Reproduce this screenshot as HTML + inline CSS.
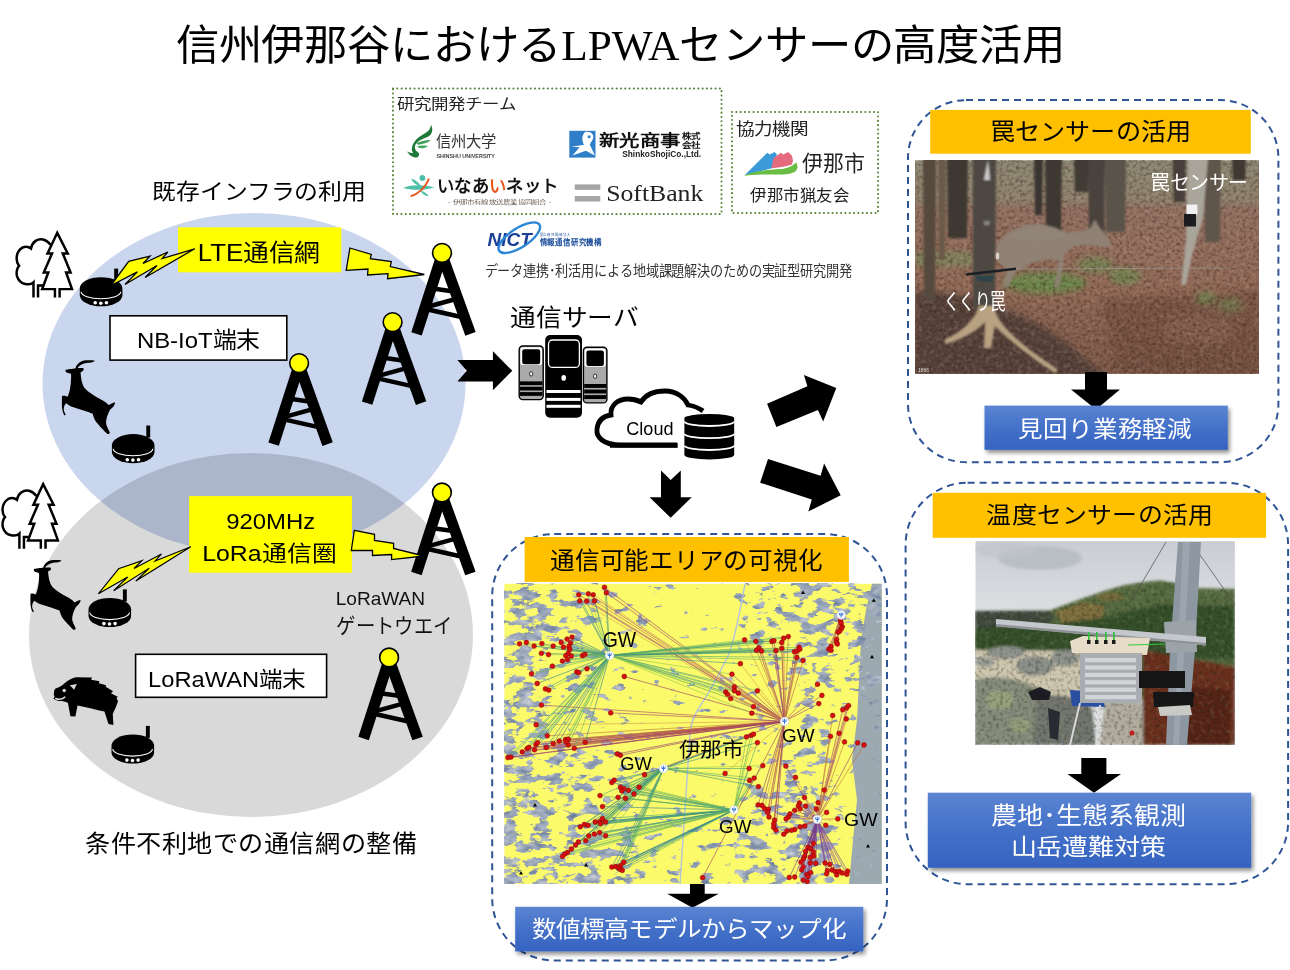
<!DOCTYPE html>
<html lang="zh-CN"><head><meta charset="utf-8"><title>LPWA</title>
<style>html,body{margin:0;padding:0;background:#fff;overflow:hidden}svg{display:block;will-change:transform;font-family:"Liberation Sans",sans-serif}</style>
</head><body>
<svg width="1290" height="970" viewBox="0 0 1290 970">
<defs><g id="tower">
<g stroke="#000" stroke-linecap="butt">
<line x1="0" y1="2" x2="-25.5" y2="81" stroke-width="11"/>
<line x1="0" y1="2" x2="28.5" y2="81" stroke-width="11"/>
<line x1="-10.8" y1="35.4" x2="13.3" y2="38.8" stroke-width="4.5"/>
<line x1="15.7" y1="45.6" x2="-17" y2="54.6" stroke-width="4.5"/>
<line x1="-17.4" y1="55.8" x2="22.7" y2="64.8" stroke-width="4.5"/>
</g>
<circle r="9.4" fill="#ff0" stroke="#000" stroke-width="1.6"/>
</g>
<g id="router">
<rect x="34.4" y="-8.6" width="3.9" height="12" fill="#000"/>
<path d="M0,11.2 A21.3,11.2 0 0 1 42.6,11.2 L42.6,18 A21.3,11.1 0 0 1 0,18 Z" fill="#000"/>
<path d="M1.3,14.6 A19.8,7 0 0 0 40.9,14.6" fill="none" stroke="#fff" stroke-width="1.1"/>
<circle cx="15.4" cy="25.6" r="1.8" fill="#fff"/><circle cx="21" cy="26" r="1.8" fill="#fff"/><circle cx="26.6" cy="25.6" r="1.8" fill="#fff"/>
</g>
<g id="trees" fill="none" stroke="#000" stroke-width="30" stroke-linejoin="miter">
<path d="M285,880 L285,695 C250,730 120,740 85,620 C70,560 95,510 110,495 C70,450 60,330 150,275 C190,255 230,265 255,285 C270,200 340,160 400,175 C440,185 470,210 492,240" fill="#fff"/>
<path d="M340,880 L340,735 L400,735"/>
<path d="M602,880 L602,778 L752,778 L680,575 L735,575 L640,345 L700,345 L573,95 L455,345 L510,345 L410,575 L465,575 L390,778 L545,778 L545,880" fill="#fff"/>
</g>
<path id="deer" d="M120,170 C140,160 200,158 235,150 C240,115 280,72 330,62 C370,60 420,58 455,66 C450,80 420,86 395,88 C350,86 300,100 268,135 L258,152 C280,150 310,145 325,152 C335,170 318,190 292,196 C296,260 305,330 340,380 C380,425 450,470 530,510 C565,528 595,550 612,572 C640,558 665,545 685,540 C688,570 660,600 628,625 C605,670 578,730 585,790 C595,830 620,860 625,885 C622,905 605,905 595,898 C560,865 500,800 462,752 C445,720 435,690 430,670 C380,650 300,625 220,600 C180,588 150,570 130,550 C112,560 98,590 100,625 C103,650 118,668 122,682 L108,690 C90,665 78,620 78,560 L80,468 C100,458 125,468 142,476 C168,430 180,350 183,270 C185,240 185,225 180,215 C160,208 135,205 122,192 Z" fill="#000"/>
<g id="boar"><path d="M70,290 L90,265 C150,255 200,215 250,170 C300,130 360,100 420,85 L680,90 L665,125 L800,150 L790,180 L910,215 L900,240 L1020,310 L985,345 L1095,400 L1075,430 L1100,470 C1080,550 1040,620 1015,680 L1025,855 L945,840 L880,640 C750,610 600,570 445,540 L410,720 L330,715 L290,500 C250,480 200,470 160,470 C110,465 70,450 55,425 L75,400 L60,365 Z" fill="#000"/>
<path d="M320,215 L435,195 L390,285 Z" fill="#d9d9d9"/><circle cx="230" cy="298" r="28" fill="#d9d9d9"/>
<path d="M92,428 C140,448 200,440 240,406" stroke="#d9d9d9" stroke-width="24" fill="none" stroke-linecap="round"/></g>
<linearGradient id="bluegrad" x1="0" y1="0" x2="0" y2="1"><stop offset="0" stop-color="#5b84d2"/><stop offset="0.5" stop-color="#4471c9"/><stop offset="1" stop-color="#3563c0"/></linearGradient>
<filter id="shadow" x="-10%" y="-10%" width="130%" height="140%"><feGaussianBlur in="SourceAlpha" stdDeviation="2"/><feOffset dx="2" dy="3" result="b"/><feComponentTransfer><feFuncA type="linear" slope="0.45"/></feComponentTransfer><feMerge><feMergeNode/><feMergeNode in="SourceGraphic"/></feMerge></filter>
</defs>
<text x="175.71" y="60.27" font-size="41.49" textLength="889.10" lengthAdjust="spacingAndGlyphs" font-family='"Liberation Sans",sans-serif' fill="#000">信州伊那谷における<tspan font-family='"Liberation Serif",serif'>LPWA</tspan>センサーの高度活用</text>
<ellipse cx="254" cy="383.6" rx="211.5" ry="170.6" fill="#cad6ee"/>
<ellipse cx="251" cy="635" rx="222" ry="182" fill="#000" fill-opacity="0.15"/>
<use href="#trees" transform="translate(10,225) scale(0.08244)"/>
<use href="#trees" transform="translate(-4.1,476.3) scale(0.08244)"/>
<use href="#deer" transform="translate(55,355) scale(0.08761)"/>
<use href="#deer" transform="translate(23.89,555.14) scale(0.08279)"/>
<use href="#boar" transform="translate(50,672) scale(0.061855)"/>
<use href="#router" transform="translate(79.8,277.2)"/>
<use href="#router" transform="translate(111.9,434.1)"/>
<use href="#router" transform="translate(88.5,598)"/>
<use href="#router" transform="translate(111.5,734.5)"/>
<use href="#tower" transform="translate(442,252.9)"/>
<use href="#tower" transform="translate(392.6,322.1)"/>
<use href="#tower" transform="translate(299.1,363.1)"/>
<use href="#tower" transform="translate(441.9,492.5)"/>
<use href="#tower" transform="translate(389.1,657.5)"/>
<rect x="178.1" y="227.4" width="163.2" height="44.9" fill="#ff0"/>
<text x="197.75" y="260.80" font-size="24.41" textLength="121.78" lengthAdjust="spacingAndGlyphs" font-family='"Liberation Sans",sans-serif' fill="#000">LTE通信網</text>
<rect x="189.1" y="496.1" width="162.8" height="76.6" fill="#ff0"/>
<text x="226.20" y="528.78" font-size="22.25" textLength="89.08" lengthAdjust="spacingAndGlyphs" font-family='"Liberation Sans",sans-serif' fill="#000">920MHz</text>
<text x="202.20" y="560.65" font-size="21.72" textLength="135.02" lengthAdjust="spacingAndGlyphs" font-family='"Liberation Sans",sans-serif' fill="#000">LoRa通信圏</text>
<rect x="110" y="315.8" width="176.8" height="44.3" fill="#fff" stroke="#000" stroke-width="1.6"/>
<text x="136.90" y="348.49" font-size="22.34" textLength="122.88" lengthAdjust="spacingAndGlyphs" font-family='"Liberation Sans",sans-serif' fill="#000">NB-IoT端末</text>
<rect x="135.6" y="654.3" width="191" height="43" fill="#fff" stroke="#000" stroke-width="1.6"/>
<text x="148.11" y="686.59" font-size="21.28" textLength="157.75" lengthAdjust="spacingAndGlyphs" font-family='"Liberation Sans",sans-serif' fill="#000">LoRaWAN端末</text>
<g fill="#ff0" stroke="#000" stroke-width="1.3" stroke-linejoin="miter"><polygon points="110.9,285.5 128.7,261.4 150.0,256.2 143.0,263.5 167.8,252.0 162.2,258.6 194.7,248.8 145.1,277.5 157.0,265.5 125.0,284.5 137.4,271.9" /><polygon points="349.9,248.0 371.3,254.5 370.3,258.7 391.3,261.5 390.3,266.6 424.3,274.5 387.6,278.7 388.0,273.6 367.6,275.0 368.0,269.0 346.2,270.3" /><polygon points="354.3,530.4 374.5,534.4 374.5,540.4 393.6,543.4 393.6,548.5 424.0,556.0 391.6,559.6 391.6,554.5 372.5,555.5 372.5,550.5 351.3,550.5" /><g transform="translate(98.4,593.8) rotate(-26.96) scale(1.133,0.88) rotate(23.65) translate(-110.9,-285.5)"><polygon points="110.9,285.5 128.7,261.4 150.0,256.2 143.0,263.5 167.8,252.0 162.2,258.6 194.7,248.8 145.1,277.5 157.0,265.5 125.0,284.5 137.4,271.9" /></g></g>
<text x="152.33" y="199.32" font-size="22.04" textLength="213.59" lengthAdjust="spacingAndGlyphs" font-family='"Liberation Sans",sans-serif' fill="#000">既存インフラの利用</text>
<text x="84.98" y="851.87" font-size="23.62" textLength="332.30" lengthAdjust="spacingAndGlyphs" font-family='"Liberation Sans",sans-serif' fill="#000">条件不利地での通信網の整備</text>
<text x="335.67" y="605.42" font-size="18.31" textLength="89.49" lengthAdjust="spacingAndGlyphs" font-family='"Liberation Sans",sans-serif' fill="#111">LoRaWAN</text>
<text x="336.23" y="633.14" font-size="21.01" textLength="116.18" lengthAdjust="spacingAndGlyphs" font-family='"Liberation Sans",sans-serif' fill="#111">ゲートウエイ</text>
<rect x="393" y="88.5" width="328.5" height="125.5" fill="none" stroke="#548235" stroke-width="2" stroke-dasharray="0.1 4.2" stroke-linecap="round"/>
<rect x="732" y="112" width="146" height="101" fill="none" stroke="#548235" stroke-width="2" stroke-dasharray="0.1 4.2" stroke-linecap="round"/>
<text x="397.09" y="109.10" font-size="14.47" textLength="118.40" lengthAdjust="spacingAndGlyphs" font-family='"Liberation Sans",sans-serif' fill="#222">研究開発チーム</text>
<text x="736.08" y="134.52" font-size="16.49" textLength="72.27" lengthAdjust="spacingAndGlyphs" font-family='"Liberation Sans",sans-serif' fill="#222">協力機関</text>
<text x="750.07" y="200.87" font-size="15.85" textLength="99.60" lengthAdjust="spacingAndGlyphs" font-family='"Liberation Sans",sans-serif' fill="#222">伊那市猟友会</text>
<text x="606.20" y="200.84" font-size="23.15" textLength="97.15" lengthAdjust="spacingAndGlyphs" font-family='"Liberation Serif",serif' fill="#222">SoftBank</text>
<text x="435.54" y="147.25" font-size="16.06" textLength="61.22" lengthAdjust="spacingAndGlyphs" font-family='"Liberation Sans",sans-serif' fill="#333">信州大学</text>
<text x="599.09" y="145.94" font-size="16.02" textLength="81.32" lengthAdjust="spacingAndGlyphs" font-family='"Liberation Sans",sans-serif' fill="#111" font-weight="bold">新光商事</text>
<text x="436.99" y="192.00" font-size="16.99" textLength="121.36" lengthAdjust="spacingAndGlyphs" font-family='"Liberation Sans",sans-serif' fill="#111" font-weight="bold">いなあ<tspan fill="#e8541c">い</tspan>ネット</text>
<text x="802.08" y="170.63" font-size="21.91" textLength="62.97" lengthAdjust="spacingAndGlyphs" font-family='"Liberation Sans",sans-serif' fill="#222">伊那市</text>
<text x="487.62" y="245.52" font-size="17.89" textLength="44.11" lengthAdjust="spacingAndGlyphs" font-family='"Liberation Sans",sans-serif' fill="#1a3f94" font-weight="bold" font-style="italic">NICT</text>
<text x="484.57" y="275.71" font-size="14.32" textLength="367.22" lengthAdjust="spacingAndGlyphs" font-family='"Liberation Sans",sans-serif' fill="#333">データ連携･利活用による地域課題解決のための実証型研究開発</text>
<g transform="translate(400,122) scale(0.07752)"><path d="M400,35 C430,90 420,160 360,190 C300,215 230,240 200,290 C180,330 200,370 230,390 C250,400 255,430 230,450 C200,470 150,450 120,420 L90,380 C120,395 150,400 170,400 C140,370 150,300 190,250 C240,180 320,160 360,120 C385,95 395,65 400,35 Z" fill="#1f7a3a"/>
<path d="M210,272 C260,250 330,235 395,232 C370,265 300,285 230,292 Z" fill="#3a9d55"/><path d="M222,312 C260,300 320,298 362,308 C330,335 280,345 240,332 Z" fill="#44a860"/></g>
<text x="436.4" y="157.6" font-size="5.4" fill="#444" textLength="58.6" lengthAdjust="spacingAndGlyphs" font-weight="bold">SHINSHU UNIVERSITY</text>
<rect x="569.3" y="130.8" width="26.2" height="26.8" fill="#2f7fc8"/>
<g transform="translate(560,125) scale(0.11628)"><path d="M215,60 C260,48 292,78 286,110 C281,135 262,150 257,170 L300,262 L222,222 L108,262 L168,192 L98,186 L208,170 C188,140 184,90 215,60 Z" fill="#fff"/><circle cx="250" cy="102" r="13" fill="#2f7fc8"/></g>
<text x="682" y="139.2" font-size="8.2" font-weight="bold" fill="#111" textLength="18.5" lengthAdjust="spacingAndGlyphs">株式</text><text x="682" y="147.6" font-size="8.2" font-weight="bold" fill="#111" textLength="18.5" lengthAdjust="spacingAndGlyphs">会社</text>
<text x="622.2" y="157" font-size="9" font-weight="bold" fill="#222" textLength="79" lengthAdjust="spacingAndGlyphs">ShinkoShojiCo.,Ltd.</text>
<g transform="translate(398,168) scale(0.13179)"><path d="M40,150 C100,125 200,125 275,148 C200,170 100,172 40,150 Z" fill="#4dbfa8"/><path d="M100,80 C140,95 165,115 172,140 C140,130 110,110 100,80 Z" fill="#4dbfa8"/><path d="M170,170 C200,180 225,195 232,215 C205,210 180,195 170,170 Z" fill="#4dbfa8"/><circle cx="185" cy="75" r="22" fill="#4dbfa8"/><path d="M95,215 C150,200 210,150 235,80" stroke="#e8541c" stroke-width="14" fill="none"/></g>
<text x="448" y="203.6" font-size="5.2" fill="#6b5a50" textLength="103" lengthAdjust="spacingAndGlyphs">- 伊那市有線放送農業協同組合 -</text>
<rect x="574.8" y="184.4" width="25.5" height="5.5" fill="#a6a6a6"/><rect x="574.8" y="196" width="25.5" height="5.5" fill="#a6a6a6"/>
<path d="M744.8,175 L767.2,152.7 L769.7,154.6 L774.6,152.1 L777,154.6 L772,168.2 Z" fill="#3b9bd8"/>
<path d="M771.5,168.2 L773.4,158.3 L780.8,152.7 L783.3,154.6 L788.3,152.1 L792,155.8 L793,160.8 L792,164.5 C785,167 778,167.5 771.5,168.2 Z" fill="#e56a7e"/>
<path d="M744.8,175 C752,172 758,171 762.2,170.7 C770,169.5 778,169.3 783.3,168.8 C789,167.5 793,166 796.3,162 L797.6,167 C797,170 795.5,171.5 794.5,172 C790,174 786,174.4 783.3,174.4 L762.2,174.4 C755,174.6 750,175 744.8,175.7 Z" fill="#69bd45"/>
<ellipse cx="519.3" cy="237.7" rx="24" ry="9.5" fill="none" stroke="#2a86d6" stroke-width="2.4" transform="rotate(-33 519.3 237.7)"/>
<text x="539.5" y="236.2" font-size="3.6" fill="#1b4d9b" textLength="31" lengthAdjust="spacingAndGlyphs">国立研究開発法人</text>
<text x="539.5" y="245.3" font-size="7.6" font-weight="bold" fill="#1b4d9b" textLength="62.5" lengthAdjust="spacingAndGlyphs">情報通信研究機構</text>
<text x="510.17" y="325.74" font-size="23.98" textLength="128.56" lengthAdjust="spacingAndGlyphs" font-family='"Liberation Sans",sans-serif' fill="#000">通信サーバ</text>
<polygon points="457.4,360.0 492.9,360.0 492.9,351.3 512.3,370.7 492.9,390.2 492.9,381.5 457.4,381.5 466.8,370.7" fill="#000"/>
<rect x="519.2" y="346" width="24" height="53.6" rx="3.5" fill="#aaa" stroke="#000" stroke-width="1.4"/><rect x="520.4000000000001" y="347.2" width="21.6" height="17.688000000000002" rx="2.5" fill="#fff"/><rect x="522.2" y="349.2" width="18" height="15.008000000000003" rx="2.2" fill="#000"/><ellipse cx="531.2" cy="373.872" rx="1.6" ry="2.2" fill="#fff" stroke="#000" stroke-width="0.8"/><rect x="520.0" y="381.376" width="22.4" height="3.7520000000000007" fill="#000"/><rect x="520.0" y="386.736" width="22.4" height="3.7520000000000007" fill="#000"/><rect x="520.0" y="392.096" width="22.4" height="3.7520000000000007" fill="#000"/>
<rect x="583.4" y="347.3" width="23.5" height="55.6" rx="3.5" fill="#aaa" stroke="#000" stroke-width="1.4"/><rect x="584.6" y="348.5" width="21.1" height="18.348000000000003" rx="2.5" fill="#fff"/><rect x="586.4" y="350.5" width="17.5" height="15.568000000000001" rx="2.2" fill="#000"/><ellipse cx="595.15" cy="376.212" rx="1.6" ry="2.2" fill="#fff" stroke="#000" stroke-width="0.8"/><rect x="584.1999999999999" y="383.99600000000004" width="21.9" height="3.8920000000000003" fill="#000"/><rect x="584.1999999999999" y="389.55600000000004" width="21.9" height="3.8920000000000003" fill="#000"/><rect x="584.1999999999999" y="395.116" width="21.9" height="3.8920000000000003" fill="#000"/>
<rect x="545.2" y="335" width="36.8" height="82.7" rx="5" fill="#000"/>
<rect x="548.5" y="340" width="30.9" height="27.4" rx="4" fill="none" stroke="#fff" stroke-width="1.3"/>
<ellipse cx="563.7" cy="377.9" rx="2.3" ry="2.8" fill="#fff"/>
<rect x="546.5" y="390.0" width="34" height="3" fill="#fff"/>
<rect x="546.5" y="397.9" width="34" height="3" fill="#fff"/>
<rect x="546.5" y="404.8" width="34" height="3" fill="#fff"/>
<path d="M677,445 L621,445 C603,445 596,437 597,429 C598,420 604,416 611,415 C610,405 618,399 628,399 C633,399 637,400 641,402 C646,394 655,391 665,391 C677,391 685,398 688,405 C694,406 699,408 703,411" fill="none" stroke="#000" stroke-width="4.8"/>
<line x1="610" y1="445.3" x2="677.7" y2="445.3" stroke="#000" stroke-width="4.8"/>
<path d="M684.4,418.3 A24.9,4.4 0 0 1 734.2,418.3 L734.2,455 A24.9,4.4 0 0 1 684.4,455 Z" fill="#000"/>
<path d="M684.4,421.6 A24.9,4.4 0 0 0 734.2,421.6" fill="none" stroke="#fff" stroke-width="1.8"/>
<path d="M684.4,433.8 A24.9,4.4 0 0 0 734.2,433.8" fill="none" stroke="#fff" stroke-width="1.8"/>
<path d="M684.4,445.6 A24.9,4.4 0 0 0 734.2,445.6" fill="none" stroke="#fff" stroke-width="1.8"/>
<text x="626.30" y="435.41" font-size="19.05" textLength="47.24" lengthAdjust="spacingAndGlyphs" font-family='"Liberation Sans",sans-serif' fill="#000">Cloud</text>
<polygon points="661.0,470.4 670.7,480.1 680.8,470.4 680.8,497.3 691.7,497.3 670.7,517.8 649.6,497.3 661.0,497.3" fill="#000"/>
<polygon points="767.1,403.8 807.4,386.3 803.9,374.9 836.3,388.0 823.2,421.4 817.9,410.0 776.4,427.0" fill="#000"/>
<polygon points="768.0,459.0 820.6,475.7 824.1,463.4 840.7,495.3 808.3,511.6 811.8,499.4 760.1,482.7" fill="#000"/>
<rect x="492.2" y="534" width="394.8" height="426.5" rx="62" ry="62" fill="none" stroke="#2f5597" stroke-width="2" stroke-dasharray="7 5"/>
<rect x="908" y="100.1" width="370.4" height="362.1" rx="58" ry="58" fill="none" stroke="#2f5597" stroke-width="2" stroke-dasharray="7 5"/>
<rect x="905.6" y="482.7" width="382.5" height="401.5" rx="62" ry="62" fill="none" stroke="#2f5597" stroke-width="2" stroke-dasharray="7 5"/>
<rect x="524.6" y="537" width="324.3" height="44.9" fill="#ffc000"/>
<text x="550.01" y="568.96" font-size="23.83" textLength="272.28" lengthAdjust="spacingAndGlyphs" font-family='"Liberation Sans",sans-serif' fill="#000">通信可能エリアの可視化</text>
<rect x="930.2" y="109.9" width="320.6" height="43.8" fill="#ffc000"/>
<text x="989.89" y="139.84" font-size="23.98" textLength="201.18" lengthAdjust="spacingAndGlyphs" font-family='"Liberation Sans",sans-serif' fill="#000">罠センサーの活用</text>
<rect x="932.7" y="492.8" width="333.4" height="45" fill="#ffc000"/>
<text x="986.49" y="523.45" font-size="22.77" textLength="226.68" lengthAdjust="spacingAndGlyphs" font-family='"Liberation Sans",sans-serif' fill="#000">温度センサーの活用</text>
<svg x="504.4" y="583.8" width="377.4" height="300.1" viewBox="504.4 583.8 377.4 300.1" overflow="hidden">
<rect x="504.4" y="583.8" width="377.4" height="300.1" fill="#fbfa6a"/>
<path d="M872,583.8 L881.8,583.8 L881.8,883.9 L849,883.9 L853,840 L857,800 L852,760 L857,720 L859,680 L861,640 L866,610 Z" fill="#9ca9b0"/>
<filter id="terrain" filterUnits="userSpaceOnUse" x="504.4" y="583.8" width="377.4" height="300.1" color-interpolation-filters="sRGB">
<feGaussianBlur in="SourceAlpha" stdDeviation="7" result="dens"/>
<feTurbulence type="fractalNoise" baseFrequency="0.06 0.12" numOctaves="4" seed="4" result="noise"/>
<feColorMatrix in="noise" type="matrix" values="0 0 0 0 0  0 0 0 0 0  0 0 0 0 0  1 0 0 0 0" result="na"/>
<feComposite in="na" in2="dens" operator="arithmetic" k1="0" k2="16.0" k3="8.0" k4="-11.36" result="th"/>
<feTurbulence type="fractalNoise" baseFrequency="0.09 0.16" numOctaves="2" seed="21" result="n2"/>
<feColorMatrix in="n2" type="matrix" values="0.549 0 0 0 0.329  0.480 0 0 0 0.409  0.333 0 0 0 0.559  0 0 0 0 1" result="col"/>
<feComposite in="col" in2="th" operator="in"/>
</filter>
<g filter="url(#terrain)"><rect x="457.2" y="533.8" width="94.3" height="100.0" fill-opacity="0.516"/><rect x="551.6" y="533.8" width="47.2" height="100.0" fill-opacity="0.314"/><rect x="598.8" y="533.8" width="47.2" height="100.0" fill-opacity="0.159"/><rect x="645.9" y="533.8" width="47.2" height="100.0" fill-opacity="0.020"/><rect x="693.1" y="533.8" width="47.2" height="100.0" fill-opacity="0.015"/><rect x="740.3" y="533.8" width="47.2" height="100.0" fill-opacity="0.344"/><rect x="787.4" y="533.8" width="47.2" height="100.0" fill-opacity="0.450"/><rect x="834.6" y="533.8" width="94.3" height="100.0" fill-opacity="0.374"/><rect x="457.2" y="633.8" width="94.3" height="50.0" fill-opacity="0.430"/><rect x="551.6" y="633.8" width="47.2" height="50.0" fill-opacity="0.324"/><rect x="598.8" y="633.8" width="47.2" height="50.0" fill-opacity="0.112"/><rect x="645.9" y="633.8" width="47.2" height="50.0" fill-opacity="0.040"/><rect x="693.1" y="633.8" width="47.2" height="50.0" fill-opacity="0.006"/><rect x="740.3" y="633.8" width="47.2" height="50.0" fill-opacity="0.173"/><rect x="787.4" y="633.8" width="47.2" height="50.0" fill-opacity="0.376"/><rect x="834.6" y="633.8" width="94.3" height="50.0" fill-opacity="0.319"/><rect x="457.2" y="683.8" width="94.3" height="50.0" fill-opacity="0.407"/><rect x="551.6" y="683.8" width="47.2" height="50.0" fill-opacity="0.170"/><rect x="598.8" y="683.8" width="47.2" height="50.0" fill-opacity="0.138"/><rect x="645.9" y="683.8" width="47.2" height="50.0" fill-opacity="0.019"/><rect x="693.1" y="683.8" width="47.2" height="50.0" fill-opacity="0.004"/><rect x="740.3" y="683.8" width="47.2" height="50.0" fill-opacity="0.132"/><rect x="787.4" y="683.8" width="47.2" height="50.0" fill-opacity="0.248"/><rect x="834.6" y="683.8" width="94.3" height="50.0" fill-opacity="0.241"/><rect x="457.2" y="733.8" width="94.3" height="50.0" fill-opacity="0.437"/><rect x="551.6" y="733.8" width="47.2" height="50.0" fill-opacity="0.431"/><rect x="598.8" y="733.8" width="47.2" height="50.0" fill-opacity="0.208"/><rect x="645.9" y="733.8" width="47.2" height="50.0" fill-opacity="0.000"/><rect x="693.1" y="733.8" width="47.2" height="50.0" fill-opacity="0.000"/><rect x="740.3" y="733.8" width="47.2" height="50.0" fill-opacity="0.172"/><rect x="787.4" y="733.8" width="47.2" height="50.0" fill-opacity="0.310"/><rect x="834.6" y="733.8" width="94.3" height="50.0" fill-opacity="0.000"/><rect x="457.2" y="783.9" width="94.3" height="50.0" fill-opacity="0.459"/><rect x="551.6" y="783.9" width="47.2" height="50.0" fill-opacity="0.313"/><rect x="598.8" y="783.9" width="47.2" height="50.0" fill-opacity="0.264"/><rect x="645.9" y="783.9" width="47.2" height="50.0" fill-opacity="0.056"/><rect x="693.1" y="783.9" width="47.2" height="50.0" fill-opacity="0.118"/><rect x="740.3" y="783.9" width="47.2" height="50.0" fill-opacity="0.329"/><rect x="787.4" y="783.9" width="47.2" height="50.0" fill-opacity="0.472"/><rect x="834.6" y="783.9" width="94.3" height="50.0" fill-opacity="0.000"/><rect x="457.2" y="833.9" width="94.3" height="100.0" fill-opacity="0.499"/><rect x="551.6" y="833.9" width="47.2" height="100.0" fill-opacity="0.423"/><rect x="598.8" y="833.9" width="47.2" height="100.0" fill-opacity="0.379"/><rect x="645.9" y="833.9" width="47.2" height="100.0" fill-opacity="0.131"/><rect x="693.1" y="833.9" width="47.2" height="100.0" fill-opacity="0.229"/><rect x="740.3" y="833.9" width="47.2" height="100.0" fill-opacity="0.395"/><rect x="787.4" y="833.9" width="47.2" height="100.0" fill-opacity="0.480"/><rect x="834.6" y="833.9" width="94.3" height="100.0" fill-opacity="0.000"/></g>
<path d="M745,584 C740,610 735,640 728,656 C716,680 706,698 700,706 C694,716 690,724 690,734 C688,770 684,820 680,884" stroke="#b4c4dc" stroke-width="1.4" fill="none"/>
<g stroke-width="0.8" stroke-opacity="0.75"><line x1="609.6" y1="655.4" x2="604.5" y2="587.3" stroke="#6db85a"/><line x1="784.5" y1="721.4" x2="604.5" y2="587.3" stroke="#8e3a6e"/><line x1="609.6" y1="655.4" x2="606.4" y2="592.7" stroke="#2f7f8f"/><line x1="784.5" y1="721.4" x2="606.4" y2="592.7" stroke="#9a3c60"/><line x1="609.6" y1="655.4" x2="578.7" y2="594.8" stroke="#3d8f86"/><line x1="784.5" y1="721.4" x2="578.7" y2="594.8" stroke="#a4436a"/><line x1="609.6" y1="655.4" x2="588.3" y2="593.8" stroke="#8cc850"/><line x1="784.5" y1="721.4" x2="588.3" y2="593.8" stroke="#a4436a"/><line x1="609.6" y1="655.4" x2="593.2" y2="594.8" stroke="#6db85a"/><line x1="784.5" y1="721.4" x2="593.2" y2="594.8" stroke="#d39a50"/><line x1="609.6" y1="655.4" x2="579.8" y2="600.9" stroke="#3d8f86"/><line x1="784.5" y1="721.4" x2="579.8" y2="600.9" stroke="#d39a50"/><line x1="609.6" y1="655.4" x2="586.7" y2="601.1" stroke="#4aa37a"/><line x1="784.5" y1="721.4" x2="586.7" y2="601.1" stroke="#a4436a"/><line x1="609.6" y1="655.4" x2="594.4" y2="600.9" stroke="#3d8f86"/><line x1="784.5" y1="721.4" x2="594.4" y2="600.9" stroke="#b85a50"/><line x1="609.6" y1="655.4" x2="572" y2="637.1" stroke="#2f7f8f"/><line x1="609.6" y1="655.4" x2="567.1" y2="639.1" stroke="#3d8f86"/><line x1="609.6" y1="655.4" x2="561.2" y2="642.5" stroke="#4aa37a"/><line x1="609.6" y1="655.4" x2="570.5" y2="643" stroke="#3d8f86"/><line x1="609.6" y1="655.4" x2="563.5" y2="647.2" stroke="#8cc850"/><line x1="609.6" y1="655.4" x2="569" y2="646.4" stroke="#2f7f8f"/><line x1="609.6" y1="655.4" x2="569.7" y2="649.5" stroke="#3d8f86"/><line x1="609.6" y1="655.4" x2="568.2" y2="653.3" stroke="#8cc850"/><line x1="609.6" y1="655.4" x2="565.8" y2="655.7" stroke="#3d8f86"/><line x1="609.6" y1="655.4" x2="571.3" y2="656.1" stroke="#4aa37a"/><line x1="609.6" y1="655.4" x2="567.4" y2="659.5" stroke="#55a868"/><line x1="609.6" y1="655.4" x2="562.4" y2="661.1" stroke="#55a868"/><line x1="609.6" y1="655.4" x2="582.5" y2="655.7" stroke="#8cc850"/><line x1="609.6" y1="655.4" x2="584.9" y2="654.4" stroke="#3d8f86"/><line x1="609.6" y1="655.4" x2="519.5" y2="643.8" stroke="#8cc850"/><line x1="609.6" y1="655.4" x2="526.4" y2="642.5" stroke="#8cc850"/><line x1="609.6" y1="655.4" x2="534.1" y2="646.1" stroke="#2f7f8f"/><line x1="609.6" y1="655.4" x2="541.9" y2="643.6" stroke="#3d8f86"/><line x1="609.6" y1="655.4" x2="553.2" y2="646.1" stroke="#4aa37a"/><line x1="609.6" y1="655.4" x2="541.4" y2="653.3" stroke="#3d8f86"/><line x1="609.6" y1="655.4" x2="548.5" y2="654.6" stroke="#8cc850"/><line x1="609.6" y1="655.4" x2="552.4" y2="666.2" stroke="#4aa37a"/><line x1="609.6" y1="655.4" x2="531.5" y2="673.8" stroke="#6db85a"/><line x1="609.6" y1="655.4" x2="537.2" y2="683.5" stroke="#2f7f8f"/><line x1="609.6" y1="655.4" x2="545.4" y2="688.9" stroke="#4aa37a"/><line x1="609.6" y1="655.4" x2="548.8" y2="690.1" stroke="#8cc850"/><line x1="784.5" y1="721.4" x2="541.4" y2="705.1" stroke="#a4436a"/><line x1="784.5" y1="721.4" x2="536.2" y2="724.8" stroke="#d39a50"/><line x1="609.6" y1="655.4" x2="587" y2="668.8" stroke="#6db85a"/><line x1="609.6" y1="655.4" x2="576.7" y2="671.9" stroke="#8cc850"/><line x1="609.6" y1="655.4" x2="578.7" y2="672.7" stroke="#55a868"/><line x1="784.5" y1="721.4" x2="624.3" y2="676.5" stroke="#8e3a6e"/><line x1="784.5" y1="721.4" x2="610.7" y2="712.9" stroke="#a4436a"/><line x1="784.5" y1="721.4" x2="744.6" y2="639.9" stroke="#d39a50"/><line x1="609.6" y1="655.4" x2="744.6" y2="639.9" stroke="#8cc850"/><line x1="784.5" y1="721.4" x2="755.9" y2="641.3" stroke="#9a3c60"/><line x1="609.6" y1="655.4" x2="755.9" y2="641.3" stroke="#4aa37a"/><line x1="784.5" y1="721.4" x2="756.5" y2="650.3" stroke="#c0703e"/><line x1="609.6" y1="655.4" x2="756.5" y2="650.3" stroke="#3d8f86"/><line x1="784.5" y1="721.4" x2="758.8" y2="647.9" stroke="#d39a50"/><line x1="609.6" y1="655.4" x2="758.8" y2="647.9" stroke="#55a868"/><line x1="784.5" y1="721.4" x2="761.6" y2="651" stroke="#a4436a"/><line x1="609.6" y1="655.4" x2="761.6" y2="651" stroke="#8cc850"/><line x1="784.5" y1="721.4" x2="771.9" y2="641.4" stroke="#a4436a"/><line x1="609.6" y1="655.4" x2="771.9" y2="641.4" stroke="#8cc850"/><line x1="784.5" y1="721.4" x2="773.9" y2="640.7" stroke="#8e3a6e"/><line x1="609.6" y1="655.4" x2="773.9" y2="640.7" stroke="#2f7f8f"/><line x1="784.5" y1="721.4" x2="776" y2="650.6" stroke="#9a3c60"/><line x1="609.6" y1="655.4" x2="776" y2="650.6" stroke="#8cc850"/><line x1="784.5" y1="721.4" x2="781.7" y2="642.5" stroke="#b85a50"/><line x1="609.6" y1="655.4" x2="781.7" y2="642.5" stroke="#6db85a"/><line x1="784.5" y1="721.4" x2="781.7" y2="648.4" stroke="#b85a50"/><line x1="609.6" y1="655.4" x2="781.7" y2="648.4" stroke="#8cc850"/><line x1="784.5" y1="721.4" x2="783.7" y2="638.2" stroke="#b85a50"/><line x1="609.6" y1="655.4" x2="783.7" y2="638.2" stroke="#6db85a"/><line x1="784.5" y1="721.4" x2="788.3" y2="636.6" stroke="#c0703e"/><line x1="609.6" y1="655.4" x2="788.3" y2="636.6" stroke="#4aa37a"/><line x1="784.5" y1="721.4" x2="794.5" y2="651.8" stroke="#8e3a6e"/><line x1="609.6" y1="655.4" x2="794.5" y2="651.8" stroke="#55a868"/><line x1="784.5" y1="721.4" x2="797.1" y2="651" stroke="#8e3a6e"/><line x1="609.6" y1="655.4" x2="797.1" y2="651" stroke="#3d8f86"/><line x1="784.5" y1="721.4" x2="799.1" y2="647.2" stroke="#d39a50"/><line x1="609.6" y1="655.4" x2="799.1" y2="647.2" stroke="#6db85a"/><line x1="784.5" y1="721.4" x2="799.8" y2="649.2" stroke="#d39a50"/><line x1="609.6" y1="655.4" x2="799.8" y2="649.2" stroke="#2f7f8f"/><line x1="784.5" y1="721.4" x2="796.8" y2="657.5" stroke="#c0703e"/><line x1="609.6" y1="655.4" x2="796.8" y2="657.5" stroke="#55a868"/><line x1="784.5" y1="721.4" x2="803" y2="660.6" stroke="#b85a50"/><line x1="609.6" y1="655.4" x2="803" y2="660.6" stroke="#6db85a"/><line x1="784.5" y1="721.4" x2="740.4" y2="663.7" stroke="#d39a50"/><line x1="609.6" y1="655.4" x2="740.4" y2="663.7" stroke="#3d8f86"/><line x1="784.5" y1="721.4" x2="731.9" y2="674.2" stroke="#a4436a"/><line x1="609.6" y1="655.4" x2="731.9" y2="674.2" stroke="#8cc850"/><line x1="784.5" y1="721.4" x2="734.4" y2="686.9" stroke="#b85a50"/><line x1="609.6" y1="655.4" x2="734.4" y2="686.9" stroke="#4aa37a"/><line x1="784.5" y1="721.4" x2="734.4" y2="690.9" stroke="#c0703e"/><line x1="609.6" y1="655.4" x2="734.4" y2="690.9" stroke="#4aa37a"/><line x1="784.5" y1="721.4" x2="725.7" y2="692" stroke="#b85a50"/><line x1="609.6" y1="655.4" x2="725.7" y2="692" stroke="#2f7f8f"/><line x1="784.5" y1="721.4" x2="727.6" y2="694.3" stroke="#a4436a"/><line x1="609.6" y1="655.4" x2="727.6" y2="694.3" stroke="#55a868"/><line x1="784.5" y1="721.4" x2="730.7" y2="698.6" stroke="#a4436a"/><line x1="609.6" y1="655.4" x2="730.7" y2="698.6" stroke="#8cc850"/><line x1="784.5" y1="721.4" x2="738.4" y2="693.2" stroke="#d39a50"/><line x1="609.6" y1="655.4" x2="738.4" y2="693.2" stroke="#6db85a"/><line x1="784.5" y1="721.4" x2="757.4" y2="690.8" stroke="#c0703e"/><line x1="609.6" y1="655.4" x2="757.4" y2="690.8" stroke="#55a868"/><line x1="784.5" y1="721.4" x2="753.5" y2="706.7" stroke="#c0703e"/><line x1="609.6" y1="655.4" x2="753.5" y2="706.7" stroke="#8cc850"/><line x1="784.5" y1="721.4" x2="751.8" y2="713.2" stroke="#b85a50"/><line x1="609.6" y1="655.4" x2="751.8" y2="713.2" stroke="#8cc850"/><line x1="784.5" y1="721.4" x2="817.5" y2="684.3" stroke="#b85a50"/><line x1="784.5" y1="721.4" x2="821.9" y2="695.4" stroke="#a4436a"/><line x1="784.5" y1="721.4" x2="818.8" y2="703.6" stroke="#a4436a"/><line x1="817.3" y1="819.4" x2="832.7" y2="715.5" stroke="#c0703e"/><line x1="817.3" y1="819.4" x2="846.3" y2="719" stroke="#b85a50"/><line x1="817.3" y1="819.4" x2="842.7" y2="709.8" stroke="#9a3c60"/><line x1="817.3" y1="819.4" x2="846.6" y2="707.9" stroke="#9a3c60"/><line x1="817.3" y1="819.4" x2="848.5" y2="705.6" stroke="#a4436a"/><line x1="841.2" y1="615" x2="840.4" y2="620.1" stroke="#a4436a"/><line x1="841.2" y1="615" x2="841.2" y2="622.9" stroke="#9a3c60"/><line x1="841.2" y1="615" x2="842.3" y2="626.8" stroke="#9a3c60"/><line x1="841.2" y1="615" x2="841.2" y2="628.9" stroke="#c0703e"/><line x1="841.2" y1="615" x2="838.1" y2="632.2" stroke="#9a3c60"/><line x1="841.2" y1="615" x2="839.6" y2="631.2" stroke="#d39a50"/><line x1="841.2" y1="615" x2="836.6" y2="639.4" stroke="#9a3c60"/><line x1="841.2" y1="615" x2="836.6" y2="642.5" stroke="#b85a50"/><line x1="841.2" y1="615" x2="837.3" y2="644.1" stroke="#c0703e"/><line x1="841.2" y1="615" x2="831.1" y2="646.4" stroke="#9a3c60"/><line x1="841.2" y1="615" x2="828.8" y2="649.2" stroke="#b85a50"/><line x1="841.2" y1="615" x2="831.1" y2="650.3" stroke="#9a3c60"/><line x1="784.5" y1="721.4" x2="547.3" y2="735.8" stroke="#c0703e"/><line x1="609.6" y1="655.4" x2="547.3" y2="735.8" stroke="#3d8f86"/><line x1="784.5" y1="721.4" x2="522.2" y2="752" stroke="#b85a50"/><line x1="609.6" y1="655.4" x2="522.2" y2="752" stroke="#6db85a"/><line x1="784.5" y1="721.4" x2="527" y2="748.6" stroke="#8e3a6e"/><line x1="609.6" y1="655.4" x2="527" y2="748.6" stroke="#8cc850"/><line x1="784.5" y1="721.4" x2="528.9" y2="747.5" stroke="#a4436a"/><line x1="609.6" y1="655.4" x2="528.9" y2="747.5" stroke="#2f7f8f"/><line x1="784.5" y1="721.4" x2="535.9" y2="744.7" stroke="#a4436a"/><line x1="609.6" y1="655.4" x2="535.9" y2="744.7" stroke="#4aa37a"/><line x1="784.5" y1="721.4" x2="537.5" y2="742.6" stroke="#c0703e"/><line x1="609.6" y1="655.4" x2="537.5" y2="742.6" stroke="#4aa37a"/><line x1="784.5" y1="721.4" x2="534.5" y2="749.8" stroke="#9a3c60"/><line x1="609.6" y1="655.4" x2="534.5" y2="749.8" stroke="#4aa37a"/><line x1="784.5" y1="721.4" x2="546.3" y2="747.5" stroke="#b85a50"/><line x1="609.6" y1="655.4" x2="546.3" y2="747.5" stroke="#2f7f8f"/><line x1="784.5" y1="721.4" x2="553.2" y2="743.6" stroke="#b85a50"/><line x1="609.6" y1="655.4" x2="553.2" y2="743.6" stroke="#3d8f86"/><line x1="784.5" y1="721.4" x2="559.2" y2="741.1" stroke="#8e3a6e"/><line x1="609.6" y1="655.4" x2="559.2" y2="741.1" stroke="#2f7f8f"/><line x1="784.5" y1="721.4" x2="565.5" y2="739.5" stroke="#b85a50"/><line x1="609.6" y1="655.4" x2="565.5" y2="739.5" stroke="#8cc850"/><line x1="784.5" y1="721.4" x2="568.3" y2="739.2" stroke="#c0703e"/><line x1="609.6" y1="655.4" x2="568.3" y2="739.2" stroke="#4aa37a"/><line x1="784.5" y1="721.4" x2="566.2" y2="742" stroke="#b85a50"/><line x1="609.6" y1="655.4" x2="566.2" y2="742" stroke="#8cc850"/><line x1="784.5" y1="721.4" x2="568.3" y2="745" stroke="#c0703e"/><line x1="609.6" y1="655.4" x2="568.3" y2="745" stroke="#55a868"/><line x1="784.5" y1="721.4" x2="574.3" y2="748.3" stroke="#b85a50"/><line x1="609.6" y1="655.4" x2="574.3" y2="748.3" stroke="#6db85a"/><line x1="784.5" y1="721.4" x2="585.2" y2="742.3" stroke="#9a3c60"/><line x1="609.6" y1="655.4" x2="585.2" y2="742.3" stroke="#2f7f8f"/><line x1="784.5" y1="721.4" x2="507.9" y2="757.6" stroke="#8e3a6e"/><line x1="609.6" y1="655.4" x2="507.9" y2="757.6" stroke="#4aa37a"/><line x1="784.5" y1="721.4" x2="511" y2="757.1" stroke="#a4436a"/><line x1="609.6" y1="655.4" x2="511" y2="757.1" stroke="#4aa37a"/><line x1="784.5" y1="721.4" x2="617.3" y2="754" stroke="#8e3a6e"/><line x1="784.5" y1="721.4" x2="620.4" y2="755.3" stroke="#8e3a6e"/><line x1="784.5" y1="721.4" x2="644.5" y2="774.7" stroke="#9a3c60"/><line x1="663.5" y1="768.5" x2="611.8" y2="782.5" stroke="#4aa37a"/><line x1="734" y1="810" x2="611.8" y2="782.5" stroke="#3d8f86"/><line x1="663.5" y1="768.5" x2="614.2" y2="780.2" stroke="#2f7f8f"/><line x1="734" y1="810" x2="614.2" y2="780.2" stroke="#8cc850"/><line x1="663.5" y1="768.5" x2="620.4" y2="787.2" stroke="#4aa37a"/><line x1="734" y1="810" x2="620.4" y2="787.2" stroke="#6db85a"/><line x1="663.5" y1="768.5" x2="623.8" y2="788.7" stroke="#6db85a"/><line x1="734" y1="810" x2="623.8" y2="788.7" stroke="#3d8f86"/><line x1="663.5" y1="768.5" x2="621.8" y2="790.9" stroke="#4aa37a"/><line x1="734" y1="810" x2="621.8" y2="790.9" stroke="#2f7f8f"/><line x1="663.5" y1="768.5" x2="628.5" y2="790.3" stroke="#8cc850"/><line x1="734" y1="810" x2="628.5" y2="790.3" stroke="#6db85a"/><line x1="663.5" y1="768.5" x2="639.1" y2="787.2" stroke="#8cc850"/><line x1="734" y1="810" x2="639.1" y2="787.2" stroke="#8cc850"/><line x1="663.5" y1="768.5" x2="634" y2="794" stroke="#6db85a"/><line x1="734" y1="810" x2="634" y2="794" stroke="#4aa37a"/><line x1="663.5" y1="768.5" x2="618.1" y2="797.3" stroke="#55a868"/><line x1="734" y1="810" x2="618.1" y2="797.3" stroke="#8cc850"/><line x1="663.5" y1="768.5" x2="625.4" y2="798.4" stroke="#8cc850"/><line x1="734" y1="810" x2="625.4" y2="798.4" stroke="#55a868"/><line x1="663.5" y1="768.5" x2="600" y2="795.6" stroke="#55a868"/><line x1="734" y1="810" x2="600" y2="795.6" stroke="#55a868"/><line x1="663.5" y1="768.5" x2="602.5" y2="806.6" stroke="#3d8f86"/><line x1="734" y1="810" x2="602.5" y2="806.6" stroke="#2f7f8f"/><line x1="663.5" y1="768.5" x2="580.3" y2="826.8" stroke="#55a868"/><line x1="734" y1="810" x2="580.3" y2="826.8" stroke="#8cc850"/><line x1="663.5" y1="768.5" x2="584.3" y2="824.5" stroke="#2f7f8f"/><line x1="734" y1="810" x2="584.3" y2="824.5" stroke="#2f7f8f"/><line x1="663.5" y1="768.5" x2="588" y2="825.3" stroke="#2f7f8f"/><line x1="734" y1="810" x2="588" y2="825.3" stroke="#2f7f8f"/><line x1="663.5" y1="768.5" x2="595.2" y2="822" stroke="#3d8f86"/><line x1="734" y1="810" x2="595.2" y2="822" stroke="#2f7f8f"/><line x1="663.5" y1="768.5" x2="599.7" y2="821.7" stroke="#55a868"/><line x1="734" y1="810" x2="599.7" y2="821.7" stroke="#2f7f8f"/><line x1="663.5" y1="768.5" x2="602.4" y2="818.6" stroke="#3d8f86"/><line x1="734" y1="810" x2="602.4" y2="818.6" stroke="#4aa37a"/><line x1="663.5" y1="768.5" x2="600.5" y2="823.7" stroke="#3d8f86"/><line x1="734" y1="810" x2="600.5" y2="823.7" stroke="#4aa37a"/><line x1="663.5" y1="768.5" x2="605.5" y2="822" stroke="#2f7f8f"/><line x1="734" y1="810" x2="605.5" y2="822" stroke="#4aa37a"/><line x1="663.5" y1="768.5" x2="588.8" y2="836" stroke="#3d8f86"/><line x1="734" y1="810" x2="588.8" y2="836" stroke="#6db85a"/><line x1="663.5" y1="768.5" x2="594.3" y2="834.2" stroke="#8cc850"/><line x1="734" y1="810" x2="594.3" y2="834.2" stroke="#3d8f86"/><line x1="663.5" y1="768.5" x2="599.7" y2="832.6" stroke="#3d8f86"/><line x1="734" y1="810" x2="599.7" y2="832.6" stroke="#3d8f86"/><line x1="663.5" y1="768.5" x2="605.6" y2="835.7" stroke="#8cc850"/><line x1="734" y1="810" x2="605.6" y2="835.7" stroke="#4aa37a"/><line x1="663.5" y1="768.5" x2="585.7" y2="840.7" stroke="#8cc850"/><line x1="734" y1="810" x2="585.7" y2="840.7" stroke="#3d8f86"/><line x1="663.5" y1="768.5" x2="578.4" y2="841.9" stroke="#6db85a"/><line x1="734" y1="810" x2="578.4" y2="841.9" stroke="#8cc850"/><line x1="663.5" y1="768.5" x2="575.6" y2="845" stroke="#3d8f86"/><line x1="734" y1="810" x2="575.6" y2="845" stroke="#3d8f86"/><line x1="663.5" y1="768.5" x2="571.4" y2="849" stroke="#4aa37a"/><line x1="734" y1="810" x2="571.4" y2="849" stroke="#8cc850"/><line x1="663.5" y1="768.5" x2="567.5" y2="852.5" stroke="#2f7f8f"/><line x1="734" y1="810" x2="567.5" y2="852.5" stroke="#4aa37a"/><line x1="663.5" y1="768.5" x2="564.7" y2="854.1" stroke="#55a868"/><line x1="734" y1="810" x2="564.7" y2="854.1" stroke="#6db85a"/><line x1="663.5" y1="768.5" x2="562.5" y2="856.4" stroke="#6db85a"/><line x1="734" y1="810" x2="562.5" y2="856.4" stroke="#8cc850"/><line x1="663.5" y1="768.5" x2="623.8" y2="862.2" stroke="#6db85a"/><line x1="734" y1="810" x2="623.8" y2="862.2" stroke="#2f7f8f"/><line x1="663.5" y1="768.5" x2="611.8" y2="867.1" stroke="#3d8f86"/><line x1="734" y1="810" x2="611.8" y2="867.1" stroke="#3d8f86"/><line x1="663.5" y1="768.5" x2="615.7" y2="866.5" stroke="#2f7f8f"/><line x1="734" y1="810" x2="615.7" y2="866.5" stroke="#2f7f8f"/><line x1="663.5" y1="768.5" x2="618.4" y2="867.6" stroke="#2f7f8f"/><line x1="734" y1="810" x2="618.4" y2="867.6" stroke="#2f7f8f"/><line x1="663.5" y1="768.5" x2="620.7" y2="865.7" stroke="#6db85a"/><line x1="734" y1="810" x2="620.7" y2="865.7" stroke="#3d8f86"/><line x1="663.5" y1="768.5" x2="619.9" y2="869.2" stroke="#4aa37a"/><line x1="734" y1="810" x2="619.9" y2="869.2" stroke="#3d8f86"/><line x1="663.5" y1="768.5" x2="622.3" y2="870.4" stroke="#55a868"/><line x1="734" y1="810" x2="622.3" y2="870.4" stroke="#6db85a"/><line x1="663.5" y1="768.5" x2="746.5" y2="736.9" stroke="#55a868"/><line x1="734" y1="810" x2="746.5" y2="736.9" stroke="#6db85a"/><line x1="663.5" y1="768.5" x2="751.1" y2="735.3" stroke="#2f7f8f"/><line x1="734" y1="810" x2="751.1" y2="735.3" stroke="#55a868"/><line x1="663.5" y1="768.5" x2="753.5" y2="734.2" stroke="#4aa37a"/><line x1="734" y1="810" x2="753.5" y2="734.2" stroke="#8cc850"/><line x1="663.5" y1="768.5" x2="757.4" y2="742.6" stroke="#3d8f86"/><line x1="734" y1="810" x2="757.4" y2="742.6" stroke="#4aa37a"/><line x1="663.5" y1="768.5" x2="762.8" y2="765.7" stroke="#8cc850"/><line x1="734" y1="810" x2="762.8" y2="765.7" stroke="#6db85a"/><line x1="663.5" y1="768.5" x2="749.1" y2="768.5" stroke="#4aa37a"/><line x1="734" y1="810" x2="749.1" y2="768.5" stroke="#55a868"/><line x1="784.5" y1="721.4" x2="725.1" y2="773.5" stroke="#d39a50"/><line x1="663.5" y1="768.5" x2="749.6" y2="780.5" stroke="#3d8f86"/><line x1="734" y1="810" x2="749.6" y2="780.5" stroke="#8cc850"/><line x1="663.5" y1="768.5" x2="754.2" y2="778.1" stroke="#6db85a"/><line x1="734" y1="810" x2="754.2" y2="778.1" stroke="#55a868"/><line x1="663.5" y1="768.5" x2="758.4" y2="786.7" stroke="#3d8f86"/><line x1="734" y1="810" x2="758.4" y2="786.7" stroke="#55a868"/><line x1="817.3" y1="819.4" x2="830.5" y2="736.4" stroke="#c0703e"/><line x1="817.3" y1="819.4" x2="839.1" y2="733.3" stroke="#d39a50"/><line x1="817.3" y1="819.4" x2="844.5" y2="741.9" stroke="#c0703e"/><line x1="817.3" y1="819.4" x2="857.7" y2="742.8" stroke="#8e3a6e"/><line x1="817.3" y1="819.4" x2="864" y2="745" stroke="#c0703e"/><line x1="817.3" y1="819.4" x2="785.8" y2="766.1" stroke="#8e3a6e"/><line x1="817.3" y1="819.4" x2="795.5" y2="777.4" stroke="#d39a50"/><line x1="817.3" y1="819.4" x2="824.3" y2="790.1" stroke="#d39a50"/><line x1="817.3" y1="819.4" x2="804.5" y2="797.6" stroke="#d39a50"/><line x1="817.3" y1="819.4" x2="818.1" y2="802.7" stroke="#c0703e"/><line x1="817.3" y1="819.4" x2="799.4" y2="803" stroke="#9a3c60"/><line x1="817.3" y1="819.4" x2="805.6" y2="806.1" stroke="#8e3a6e"/><line x1="817.3" y1="819.4" x2="798.3" y2="806.1" stroke="#d39a50"/><line x1="817.3" y1="819.4" x2="800.2" y2="808.8" stroke="#8e3a6e"/><line x1="817.3" y1="819.4" x2="794.7" y2="810.3" stroke="#8e3a6e"/><line x1="817.3" y1="819.4" x2="816.2" y2="809" stroke="#b85a50"/><line x1="817.3" y1="819.4" x2="826.6" y2="812.4" stroke="#9a3c60"/><line x1="817.3" y1="819.4" x2="790" y2="813.9" stroke="#8e3a6e"/><line x1="817.3" y1="819.4" x2="788.5" y2="817" stroke="#8e3a6e"/><line x1="817.3" y1="819.4" x2="786.1" y2="818.9" stroke="#d39a50"/><line x1="817.3" y1="819.4" x2="837.8" y2="818.9" stroke="#b85a50"/><line x1="817.3" y1="819.4" x2="825.8" y2="825.3" stroke="#c0703e"/><line x1="817.3" y1="819.4" x2="804.8" y2="826.1" stroke="#9a3c60"/><line x1="817.3" y1="819.4" x2="800.2" y2="826.8" stroke="#a4436a"/><line x1="817.3" y1="819.4" x2="794.7" y2="829.5" stroke="#a4436a"/><line x1="817.3" y1="819.4" x2="791.6" y2="830.3" stroke="#c0703e"/><line x1="817.3" y1="819.4" x2="786.9" y2="831" stroke="#b85a50"/><line x1="817.3" y1="819.4" x2="783.8" y2="834.2" stroke="#c0703e"/><line x1="784.5" y1="721.4" x2="758.1" y2="804.9" stroke="#8e3a6e"/><line x1="784.5" y1="721.4" x2="762" y2="805.4" stroke="#9a3c60"/><line x1="784.5" y1="721.4" x2="764.4" y2="808.5" stroke="#d39a50"/><line x1="784.5" y1="721.4" x2="768.3" y2="809.3" stroke="#c0703e"/><line x1="784.5" y1="721.4" x2="767.5" y2="812.4" stroke="#b85a50"/><line x1="784.5" y1="721.4" x2="769" y2="817" stroke="#9a3c60"/><line x1="784.5" y1="721.4" x2="774.5" y2="820.1" stroke="#c0703e"/><line x1="784.5" y1="721.4" x2="773.7" y2="824" stroke="#c0703e"/><line x1="784.5" y1="721.4" x2="773.7" y2="827.5" stroke="#a4436a"/><line x1="784.5" y1="721.4" x2="776" y2="830.3" stroke="#8e3a6e"/><line x1="817.3" y1="819.4" x2="813.4" y2="843.5" stroke="#7a3d8a"/><line x1="817.3" y1="819.4" x2="808" y2="847.4" stroke="#7a3d8a"/><line x1="817.3" y1="819.4" x2="810.3" y2="848.5" stroke="#8a4a96"/><line x1="817.3" y1="819.4" x2="805.6" y2="851.3" stroke="#7a3d8a"/><line x1="817.3" y1="819.4" x2="813.4" y2="852" stroke="#8a4a96"/><line x1="817.3" y1="819.4" x2="813.8" y2="856" stroke="#7a3d8a"/><line x1="817.3" y1="819.4" x2="810.3" y2="857.5" stroke="#8a4a96"/><line x1="817.3" y1="819.4" x2="804.8" y2="856" stroke="#6a3a86"/><line x1="817.3" y1="819.4" x2="803.3" y2="859" stroke="#6a3a86"/><line x1="817.3" y1="819.4" x2="801" y2="862.2" stroke="#7a3d8a"/><line x1="817.3" y1="819.4" x2="810.3" y2="863" stroke="#8a4a96"/><line x1="817.3" y1="819.4" x2="815.7" y2="863.4" stroke="#6a3a86"/><line x1="817.3" y1="819.4" x2="803.3" y2="866.8" stroke="#8a4a96"/><line x1="817.3" y1="819.4" x2="801.7" y2="870" stroke="#6a3a86"/><line x1="817.3" y1="819.4" x2="806.8" y2="874.6" stroke="#7a3d8a"/><line x1="817.3" y1="819.4" x2="810.7" y2="872.6" stroke="#6a3a86"/><line x1="817.3" y1="819.4" x2="808" y2="876.5" stroke="#7a3d8a"/><line x1="817.3" y1="819.4" x2="794.7" y2="877" stroke="#8a4a96"/><line x1="817.3" y1="819.4" x2="789.3" y2="877.4" stroke="#6a3a86"/><line x1="817.3" y1="819.4" x2="825.1" y2="863" stroke="#7a3d8a"/><line x1="817.3" y1="819.4" x2="829.7" y2="864.5" stroke="#8a4a96"/><line x1="817.3" y1="819.4" x2="827.4" y2="870.7" stroke="#7a3d8a"/><line x1="817.3" y1="819.4" x2="832.1" y2="870" stroke="#8a4a96"/><line x1="817.3" y1="819.4" x2="835.2" y2="871.5" stroke="#6a3a86"/><line x1="817.3" y1="819.4" x2="839.1" y2="871.5" stroke="#8a4a96"/><line x1="817.3" y1="819.4" x2="842.2" y2="873" stroke="#7a3d8a"/><line x1="817.3" y1="819.4" x2="847.6" y2="871.2" stroke="#6a3a86"/><line x1="817.3" y1="819.4" x2="846.8" y2="874.3" stroke="#8a4a96"/><line x1="817.3" y1="819.4" x2="836.7" y2="874.9" stroke="#8a4a96"/><line x1="817.3" y1="819.4" x2="826.6" y2="873.8" stroke="#8a4a96"/><line x1="817.3" y1="819.4" x2="803.3" y2="880.1" stroke="#6a3a86"/><line x1="817.3" y1="819.4" x2="807.2" y2="881.6" stroke="#7a3d8a"/><line x1="784.5" y1="721.4" x2="702.6" y2="877.7" stroke="#9a3c60"/></g>
<g fill="#d41010" stroke="#8a0000" stroke-width="0.5"><circle cx="604.5" cy="587.3" r="2.4"/><circle cx="606.4" cy="592.7" r="2.4"/><circle cx="578.7" cy="594.8" r="2.4"/><circle cx="588.3" cy="593.8" r="2.4"/><circle cx="593.2" cy="594.8" r="2.4"/><circle cx="579.8" cy="600.9" r="2.4"/><circle cx="586.7" cy="601.1" r="2.4"/><circle cx="594.4" cy="600.9" r="2.4"/><circle cx="572" cy="637.1" r="2.4"/><circle cx="567.1" cy="639.1" r="2.4"/><circle cx="561.2" cy="642.5" r="2.4"/><circle cx="570.5" cy="643" r="2.4"/><circle cx="563.5" cy="647.2" r="2.4"/><circle cx="569" cy="646.4" r="2.4"/><circle cx="569.7" cy="649.5" r="2.4"/><circle cx="568.2" cy="653.3" r="2.4"/><circle cx="565.8" cy="655.7" r="2.4"/><circle cx="571.3" cy="656.1" r="2.4"/><circle cx="567.4" cy="659.5" r="2.4"/><circle cx="562.4" cy="661.1" r="2.4"/><circle cx="582.5" cy="655.7" r="2.4"/><circle cx="584.9" cy="654.4" r="2.4"/><circle cx="519.5" cy="643.8" r="2.4"/><circle cx="526.4" cy="642.5" r="2.4"/><circle cx="534.1" cy="646.1" r="2.4"/><circle cx="541.9" cy="643.6" r="2.4"/><circle cx="553.2" cy="646.1" r="2.4"/><circle cx="541.4" cy="653.3" r="2.4"/><circle cx="548.5" cy="654.6" r="2.4"/><circle cx="552.4" cy="666.2" r="2.4"/><circle cx="531.5" cy="673.8" r="2.4"/><circle cx="537.2" cy="683.5" r="2.4"/><circle cx="545.4" cy="688.9" r="2.4"/><circle cx="548.8" cy="690.1" r="2.4"/><circle cx="541.4" cy="705.1" r="2.4"/><circle cx="536.2" cy="724.8" r="2.4"/><circle cx="587" cy="668.8" r="2.4"/><circle cx="576.7" cy="671.9" r="2.4"/><circle cx="578.7" cy="672.7" r="2.4"/><circle cx="624.3" cy="676.5" r="2.4"/><circle cx="610.7" cy="712.9" r="2.4"/><circle cx="744.6" cy="639.9" r="2.4"/><circle cx="755.9" cy="641.3" r="2.4"/><circle cx="756.5" cy="650.3" r="2.4"/><circle cx="758.8" cy="647.9" r="2.4"/><circle cx="761.6" cy="651" r="2.4"/><circle cx="771.9" cy="641.4" r="2.4"/><circle cx="773.9" cy="640.7" r="2.4"/><circle cx="776" cy="650.6" r="2.4"/><circle cx="781.7" cy="642.5" r="2.4"/><circle cx="781.7" cy="648.4" r="2.4"/><circle cx="783.7" cy="638.2" r="2.4"/><circle cx="788.3" cy="636.6" r="2.4"/><circle cx="794.5" cy="651.8" r="2.4"/><circle cx="797.1" cy="651" r="2.4"/><circle cx="799.1" cy="647.2" r="2.4"/><circle cx="799.8" cy="649.2" r="2.4"/><circle cx="796.8" cy="657.5" r="2.4"/><circle cx="803" cy="660.6" r="2.4"/><circle cx="740.4" cy="663.7" r="2.4"/><circle cx="731.9" cy="674.2" r="2.4"/><circle cx="734.4" cy="686.9" r="2.4"/><circle cx="734.4" cy="690.9" r="2.4"/><circle cx="725.7" cy="692" r="2.4"/><circle cx="727.6" cy="694.3" r="2.4"/><circle cx="730.7" cy="698.6" r="2.4"/><circle cx="738.4" cy="693.2" r="2.4"/><circle cx="757.4" cy="690.8" r="2.4"/><circle cx="753.5" cy="706.7" r="2.4"/><circle cx="751.8" cy="713.2" r="2.4"/><circle cx="817.5" cy="684.3" r="2.4"/><circle cx="821.9" cy="695.4" r="2.4"/><circle cx="818.8" cy="703.6" r="2.4"/><circle cx="832.7" cy="715.5" r="2.4"/><circle cx="846.3" cy="719" r="2.4"/><circle cx="842.7" cy="709.8" r="2.4"/><circle cx="846.6" cy="707.9" r="2.4"/><circle cx="848.5" cy="705.6" r="2.4"/><circle cx="840.4" cy="620.1" r="2.4"/><circle cx="841.2" cy="622.9" r="2.4"/><circle cx="842.3" cy="626.8" r="2.4"/><circle cx="841.2" cy="628.9" r="2.4"/><circle cx="838.1" cy="632.2" r="2.4"/><circle cx="839.6" cy="631.2" r="2.4"/><circle cx="836.6" cy="639.4" r="2.4"/><circle cx="836.6" cy="642.5" r="2.4"/><circle cx="837.3" cy="644.1" r="2.4"/><circle cx="831.1" cy="646.4" r="2.4"/><circle cx="828.8" cy="649.2" r="2.4"/><circle cx="831.1" cy="650.3" r="2.4"/><circle cx="547.3" cy="735.8" r="2.4"/><circle cx="522.2" cy="752" r="2.4"/><circle cx="527" cy="748.6" r="2.4"/><circle cx="528.9" cy="747.5" r="2.4"/><circle cx="535.9" cy="744.7" r="2.4"/><circle cx="537.5" cy="742.6" r="2.4"/><circle cx="534.5" cy="749.8" r="2.4"/><circle cx="546.3" cy="747.5" r="2.4"/><circle cx="553.2" cy="743.6" r="2.4"/><circle cx="559.2" cy="741.1" r="2.4"/><circle cx="565.5" cy="739.5" r="2.4"/><circle cx="568.3" cy="739.2" r="2.4"/><circle cx="566.2" cy="742" r="2.4"/><circle cx="568.3" cy="745" r="2.4"/><circle cx="574.3" cy="748.3" r="2.4"/><circle cx="585.2" cy="742.3" r="2.4"/><circle cx="507.9" cy="757.6" r="2.4"/><circle cx="511" cy="757.1" r="2.4"/><circle cx="617.3" cy="754" r="2.4"/><circle cx="620.4" cy="755.3" r="2.4"/><circle cx="644.5" cy="774.7" r="2.4"/><circle cx="611.8" cy="782.5" r="2.4"/><circle cx="614.2" cy="780.2" r="2.4"/><circle cx="620.4" cy="787.2" r="2.4"/><circle cx="623.8" cy="788.7" r="2.4"/><circle cx="621.8" cy="790.9" r="2.4"/><circle cx="628.5" cy="790.3" r="2.4"/><circle cx="639.1" cy="787.2" r="2.4"/><circle cx="634" cy="794" r="2.4"/><circle cx="618.1" cy="797.3" r="2.4"/><circle cx="625.4" cy="798.4" r="2.4"/><circle cx="600" cy="795.6" r="2.4"/><circle cx="602.5" cy="806.6" r="2.4"/><circle cx="580.3" cy="826.8" r="2.4"/><circle cx="584.3" cy="824.5" r="2.4"/><circle cx="588" cy="825.3" r="2.4"/><circle cx="595.2" cy="822" r="2.4"/><circle cx="599.7" cy="821.7" r="2.4"/><circle cx="602.4" cy="818.6" r="2.4"/><circle cx="600.5" cy="823.7" r="2.4"/><circle cx="605.5" cy="822" r="2.4"/><circle cx="588.8" cy="836" r="2.4"/><circle cx="594.3" cy="834.2" r="2.4"/><circle cx="599.7" cy="832.6" r="2.4"/><circle cx="605.6" cy="835.7" r="2.4"/><circle cx="585.7" cy="840.7" r="2.4"/><circle cx="578.4" cy="841.9" r="2.4"/><circle cx="575.6" cy="845" r="2.4"/><circle cx="571.4" cy="849" r="2.4"/><circle cx="567.5" cy="852.5" r="2.4"/><circle cx="564.7" cy="854.1" r="2.4"/><circle cx="562.5" cy="856.4" r="2.4"/><circle cx="623.8" cy="862.2" r="2.4"/><circle cx="611.8" cy="867.1" r="2.4"/><circle cx="615.7" cy="866.5" r="2.4"/><circle cx="618.4" cy="867.6" r="2.4"/><circle cx="620.7" cy="865.7" r="2.4"/><circle cx="619.9" cy="869.2" r="2.4"/><circle cx="622.3" cy="870.4" r="2.4"/><circle cx="746.5" cy="736.9" r="2.4"/><circle cx="751.1" cy="735.3" r="2.4"/><circle cx="753.5" cy="734.2" r="2.4"/><circle cx="757.4" cy="742.6" r="2.4"/><circle cx="762.8" cy="765.7" r="2.4"/><circle cx="749.1" cy="768.5" r="2.4"/><circle cx="725.1" cy="773.5" r="2.4"/><circle cx="749.6" cy="780.5" r="2.4"/><circle cx="754.2" cy="778.1" r="2.4"/><circle cx="758.4" cy="786.7" r="2.4"/><circle cx="830.5" cy="736.4" r="2.4"/><circle cx="839.1" cy="733.3" r="2.4"/><circle cx="844.5" cy="741.9" r="2.4"/><circle cx="857.7" cy="742.8" r="2.4"/><circle cx="864" cy="745" r="2.4"/><circle cx="785.8" cy="766.1" r="2.4"/><circle cx="795.5" cy="777.4" r="2.4"/><circle cx="824.3" cy="790.1" r="2.4"/><circle cx="804.5" cy="797.6" r="2.4"/><circle cx="818.1" cy="802.7" r="2.4"/><circle cx="799.4" cy="803" r="2.4"/><circle cx="805.6" cy="806.1" r="2.4"/><circle cx="798.3" cy="806.1" r="2.4"/><circle cx="800.2" cy="808.8" r="2.4"/><circle cx="794.7" cy="810.3" r="2.4"/><circle cx="816.2" cy="809" r="2.4"/><circle cx="826.6" cy="812.4" r="2.4"/><circle cx="790" cy="813.9" r="2.4"/><circle cx="788.5" cy="817" r="2.4"/><circle cx="786.1" cy="818.9" r="2.4"/><circle cx="837.8" cy="818.9" r="2.4"/><circle cx="825.8" cy="825.3" r="2.4"/><circle cx="804.8" cy="826.1" r="2.4"/><circle cx="800.2" cy="826.8" r="2.4"/><circle cx="794.7" cy="829.5" r="2.4"/><circle cx="791.6" cy="830.3" r="2.4"/><circle cx="786.9" cy="831" r="2.4"/><circle cx="783.8" cy="834.2" r="2.4"/><circle cx="758.1" cy="804.9" r="2.4"/><circle cx="762" cy="805.4" r="2.4"/><circle cx="764.4" cy="808.5" r="2.4"/><circle cx="768.3" cy="809.3" r="2.4"/><circle cx="767.5" cy="812.4" r="2.4"/><circle cx="769" cy="817" r="2.4"/><circle cx="774.5" cy="820.1" r="2.4"/><circle cx="773.7" cy="824" r="2.4"/><circle cx="773.7" cy="827.5" r="2.4"/><circle cx="776" cy="830.3" r="2.4"/><circle cx="813.4" cy="843.5" r="2.4"/><circle cx="808" cy="847.4" r="2.4"/><circle cx="810.3" cy="848.5" r="2.4"/><circle cx="805.6" cy="851.3" r="2.4"/><circle cx="813.4" cy="852" r="2.4"/><circle cx="813.8" cy="856" r="2.4"/><circle cx="810.3" cy="857.5" r="2.4"/><circle cx="804.8" cy="856" r="2.4"/><circle cx="803.3" cy="859" r="2.4"/><circle cx="801" cy="862.2" r="2.4"/><circle cx="810.3" cy="863" r="2.4"/><circle cx="815.7" cy="863.4" r="2.4"/><circle cx="803.3" cy="866.8" r="2.4"/><circle cx="801.7" cy="870" r="2.4"/><circle cx="806.8" cy="874.6" r="2.4"/><circle cx="810.7" cy="872.6" r="2.4"/><circle cx="808" cy="876.5" r="2.4"/><circle cx="794.7" cy="877" r="2.4"/><circle cx="789.3" cy="877.4" r="2.4"/><circle cx="825.1" cy="863" r="2.4"/><circle cx="829.7" cy="864.5" r="2.4"/><circle cx="827.4" cy="870.7" r="2.4"/><circle cx="832.1" cy="870" r="2.4"/><circle cx="835.2" cy="871.5" r="2.4"/><circle cx="839.1" cy="871.5" r="2.4"/><circle cx="842.2" cy="873" r="2.4"/><circle cx="847.6" cy="871.2" r="2.4"/><circle cx="846.8" cy="874.3" r="2.4"/><circle cx="836.7" cy="874.9" r="2.4"/><circle cx="826.6" cy="873.8" r="2.4"/><circle cx="803.3" cy="880.1" r="2.4"/><circle cx="807.2" cy="881.6" r="2.4"/><circle cx="702.6" cy="877.7" r="2.4"/></g>
<path d="M803,590.5 l2,3.5 h-4 z" fill="#000"/>
<path d="M873.8,598.3 l2,3.5 h-4 z" fill="#000"/>
<path d="M872,654.8 l2,3.5 h-4 z" fill="#000"/>
<path d="M535,803 l2,3.5 h-4 z" fill="#000"/>
<path d="M521,871 l2,3.5 h-4 z" fill="#000"/>
<path d="M586,863 l2,3.5 h-4 z" fill="#000"/>
<path d="M868,844 l2,3.5 h-4 z" fill="#000"/>
<circle cx="609.6" cy="655.4" r="4.2" fill="#fff" stroke="#c8d4ea" stroke-width="0.8"/><path d="M609.6,652.8 v5.2 M608.0,653.4 v2 h3.2 v-2" stroke="#2a6ad0" stroke-width="0.9" fill="none"/>
<circle cx="841.2" cy="615" r="4.2" fill="#fff" stroke="#c8d4ea" stroke-width="0.8"/><path d="M841.2,612.4 v5.2 M839.6,613 v2 h3.2 v-2" stroke="#2a6ad0" stroke-width="0.9" fill="none"/>
<circle cx="784.5" cy="721.4" r="4.2" fill="#fff" stroke="#c8d4ea" stroke-width="0.8"/><path d="M784.5,718.8 v5.2 M782.9,719.4 v2 h3.2 v-2" stroke="#2a6ad0" stroke-width="0.9" fill="none"/>
<circle cx="663.5" cy="768.5" r="4.2" fill="#fff" stroke="#c8d4ea" stroke-width="0.8"/><path d="M663.5,765.9 v5.2 M661.9,766.5 v2 h3.2 v-2" stroke="#2a6ad0" stroke-width="0.9" fill="none"/>
<circle cx="734" cy="810" r="4.2" fill="#fff" stroke="#c8d4ea" stroke-width="0.8"/><path d="M734,807.4 v5.2 M732.4,808 v2 h3.2 v-2" stroke="#2a6ad0" stroke-width="0.9" fill="none"/>
<circle cx="817.3" cy="819.4" r="4.2" fill="#fff" stroke="#c8d4ea" stroke-width="0.8"/><path d="M817.3,816.8 v5.2 M815.6999999999999,817.4 v2 h3.2 v-2" stroke="#2a6ad0" stroke-width="0.9" fill="none"/>
</svg><text x="602.73" y="647.37" font-size="22.82" textLength="33.51" lengthAdjust="spacingAndGlyphs" font-family='"Liberation Sans",sans-serif' fill="#000">GW</text><text x="782.05" y="742.02" font-size="18.03" textLength="32.58" lengthAdjust="spacingAndGlyphs" font-family='"Liberation Sans",sans-serif' fill="#000">GW</text><text x="620.18" y="770.11" font-size="19.15" textLength="31.65" lengthAdjust="spacingAndGlyphs" font-family='"Liberation Sans",sans-serif' fill="#000">GW</text><text x="719.06" y="833.22" font-size="18.03" textLength="32.48" lengthAdjust="spacingAndGlyphs" font-family='"Liberation Sans",sans-serif' fill="#000">GW</text><text x="844.13" y="825.82" font-size="18.45" textLength="33.51" lengthAdjust="spacingAndGlyphs" font-family='"Liberation Sans",sans-serif' fill="#000">GW</text><text x="678.57" y="756.60" font-size="20.00" textLength="64.71" lengthAdjust="spacingAndGlyphs" font-family='"Liberation Sans",sans-serif' fill="#000">伊那市</text>
<svg x="915" y="160.5" width="344" height="213.3" viewBox="915 160.5 344 213.3" overflow="hidden">
<defs><filter id="pb1" x="-5%" y="-5%" width="110%" height="110%"><feGaussianBlur stdDeviation="3"/></filter>
<filter id="pb1b" x="-5%" y="-5%" width="110%" height="110%"><feGaussianBlur stdDeviation="0.8"/></filter>
<filter id="pn1" filterUnits="userSpaceOnUse" x="915" y="160" width="344" height="214" color-interpolation-filters="sRGB"><feTurbulence type="fractalNoise" baseFrequency="0.3" numOctaves="2" seed="11"/><feColorMatrix type="matrix" values="0 0 0 0 0.2  0 0 0 0 0.1  0 0 0 0 0.07  1.4 0 0 0 -0.62"/></filter>
<filter id="pn1b" filterUnits="userSpaceOnUse" x="915" y="160" width="344" height="214" color-interpolation-filters="sRGB"><feTurbulence type="fractalNoise" baseFrequency="0.22" numOctaves="2" seed="5"/><feColorMatrix type="matrix" values="0 0 0 0 0.78  0 0 0 0 0.66  0 0 0 0 0.6  1.4 0 0 0 -0.68"/></filter>
<linearGradient id="pg1" x1="0" y1="0" x2="0" y2="1"><stop offset="0" stop-color="#8a8472"/><stop offset="0.25" stop-color="#937262"/><stop offset="0.6" stop-color="#926a58"/><stop offset="1" stop-color="#7a5848"/></linearGradient></defs>
<rect x="915" y="160.5" width="344" height="213.3" fill="url(#pg1)"/>
<g filter="url(#pb1)">
<rect x="915" y="158" width="344" height="45" fill="#8e8c74" opacity="0.6"/>
<path d="M915,292 C960,290 1010,305 1060,338 L1105,376 L915,376 Z" fill="#54423a"/>
<path d="M1100,300 L1259,290 L1259,376 L1120,376 Z" fill="#6e4c3e" opacity="0.6"/>
<rect x="915" y="252" width="58" height="14" fill="#7c8a5c" opacity="0.8"/>
<ellipse cx="1045" cy="283" rx="42" ry="11" fill="#6a8a4a" opacity="0.9"/><ellipse cx="1095" cy="265" rx="18" ry="9" fill="#6f8a52" opacity="0.7"/>
<ellipse cx="1125" cy="276" rx="16" ry="9" fill="#6f8a52" opacity="0.8"/>
<ellipse cx="1206" cy="298" rx="10" ry="7" fill="#6f8a52" opacity="0.7"/>
<ellipse cx="1230" cy="305" rx="12" ry="7" fill="#6f8a52" opacity="0.6"/>
<ellipse cx="1160" cy="250" rx="40" ry="18" fill="#9a7464" opacity="0.5"/>
<ellipse cx="1200" cy="330" rx="35" ry="14" fill="#8f6a58" opacity="0.5"/>
</g>
<rect x="915" y="160" width="344" height="214" filter="url(#pn1)" opacity="0.8"/>
<rect x="915" y="160" width="344" height="214" filter="url(#pn1b)" opacity="0.5"/>
<g filter="url(#pb1b)">
<path d="M923,158 L936,158 L935,300 L924,300 Z" fill="#57493d"/>
<path d="M938,158 L946,158 L945,260 L939,260 Z" fill="#6a5a48"/>
<path d="M947,158 L968,158 L967,238 L948,238 Z" fill="#3e3833"/>
<path d="M1034,158 L1043,158 L1042,215 L1035,215 Z" fill="#3a3530"/>
<path d="M1045,158 L1062,158 L1061,232 L1046,232 Z" fill="#3d3732"/>
<path d="M1074,158 L1089,158 L1088,192 L1075,192 Z" fill="#3f3a35"/>
<path d="M1088,158 L1105,158 L1104,236 L1089,236 Z" fill="#4a423c"/>
<path d="M1105,158 L1126,158 L1125,232 L1106,232 Z" fill="#5a524a"/>
<path d="M1172.7,158 L1186,158 L1185,202 L1173.7,202 Z" fill="#4a403a"/>
<path d="M1204,158 L1221,158 L1220,242 L1205,242 Z" fill="#5e554c"/>
<path d="M1232,158 L1246,158 L1245,180 L1233,180 Z" fill="#3f3833"/>
<path d="M1188,158 L1208,158 L1203,218 L1192,255 L1186,285 L1181,285 L1186,240 Z" fill="#aaa59a"/>
<path d="M972.7,158 L996,158 L995,306 L990,312 L976,312 L973,300 Z" fill="#4e4843"/>
<path d="M984,180 L988,160 L990,180 Z" fill="#ccc"/><text x="984" y="225" font-size="6" fill="#ddd">W</text>
<path d="M979,306 L994,306 C996,320 1008,332 1030,350 C1040,357 1050,364 1058,370 L1055,373 C1035,360 1008,340 995,326 L991,348 L984,348 L985,322 C978,330 965,338 946,344 L944,340 C962,332 975,320 979,306 Z" fill="#b8a282"/>
</g>
<path d="M998.1,243.2 L1010.2,232.1 L1025.3,225.1 L1040.4,224.1 L1055.5,228.1 L1065.6,233.1 L1080.7,232.1 L1090.8,228.1 L1094.8,220.0 L1098.9,227.1 L1105.9,235.2 L1111.0,245.2 L1103.9,247.2 L1090.8,244.2 L1075.7,245.2 L1065.6,251.3 L1063.6,257.3 L1060.6,275.5 L1057.6,287.6 L1054.5,285.5 L1057.6,273.5 L1059.6,260.3 L1050.5,258.3 L1040.4,260.3 L1030.3,262.4 L1023.3,267.4 L1015.2,271.4 L1008.2,285.5 L1005.2,287.6 L1003.1,283.5 L1008.2,269.4 L1000.1,263.4 L996.1,255.3 Z" fill="#8f8275" stroke="#8f8275" stroke-width="1" stroke-linejoin="round" filter="url(#pb1b)"/>
<path d="M1010,236 C1030,226 1055,226 1068,236 C1050,240 1025,242 1010,236 Z" fill="#93857a" opacity="0.7" filter="url(#pb1b)"/>
<ellipse cx="997.5" cy="256" rx="1.8" ry="3.5" fill="#d8d0c8"/>
<path d="M966,274.5 L1016,268.8" stroke="#1a2026" stroke-width="2.6"/>
<path d="M976,276 L994,276 L992,282 L978,281 Z" fill="#2e4448"/>
<path d="M1016,269 L1230,268" stroke="#a0a09c" stroke-width="0.6"/>
<rect x="1186.5" y="204.5" width="11" height="10" fill="#f0f0f0"/><rect x="1184" y="214" width="12" height="12.5" fill="#1c1c1e"/>
<text x="918" y="372" font-size="5" fill="#ddd">1866</text>
</svg><text x="1150.04" y="189.57" font-size="20.45" textLength="97.92" lengthAdjust="spacingAndGlyphs" font-family='"Liberation Sans",sans-serif' fill="#fff">罠センサー</text><text x="943.91" y="308.95" font-size="22.16" textLength="61.70" lengthAdjust="spacingAndGlyphs" font-family='"Liberation Sans",sans-serif' fill="#fff">くくり罠</text>
<svg x="975.5" y="541.2" width="259.4" height="203.3" viewBox="975.5 541.2 259.4 203.3" overflow="hidden">
<defs><filter id="pb2" x="-5%" y="-5%" width="110%" height="110%"><feGaussianBlur stdDeviation="1.6"/></filter>
<filter id="pb2b" x="-5%" y="-5%" width="110%" height="110%"><feGaussianBlur stdDeviation="0.6"/></filter>
<linearGradient id="sky2" x1="0" y1="0" x2="0" y2="1"><stop offset="0" stop-color="#c9cdd2"/><stop offset="0.35" stop-color="#dcdfe2"/><stop offset="1" stop-color="#e2e4e6"/></linearGradient>
<filter id="pn2" filterUnits="userSpaceOnUse" x="975" y="541" width="260" height="204" color-interpolation-filters="sRGB"><feTurbulence type="fractalNoise" baseFrequency="0.28" numOctaves="2" seed="3"/><feColorMatrix type="matrix" values="0 0 0 0 0.12  0 0 0 0 0.16  0 0 0 0 0.08  1.4 0 0 0 -0.66"/></filter>
<filter id="pn2b" filterUnits="userSpaceOnUse" x="975" y="541" width="260" height="204" color-interpolation-filters="sRGB"><feTurbulence type="fractalNoise" baseFrequency="0.2" numOctaves="2" seed="8"/><feColorMatrix type="matrix" values="0 0 0 0 0.75  0 0 0 0 0.78  0 0 0 0 0.6  1.4 0 0 0 -0.7"/></filter>
<clipPath id="cp2"><path d="M975,611 L1049,610.8 L1081,599 L1105,590.7 L1125,585 L1145,582 L1160,580.5 L1175,583 L1190,588 L1235,589 L1235,745 L975,745 Z"/></clipPath>
</defs>
<rect x="975.5" y="541.2" width="259.4000000000001" height="203.29999999999995" fill="url(#sky2)"/>
<g filter="url(#pb2)">
<ellipse cx="1040" cy="558" rx="42" ry="12" fill="#b4b9bf" opacity="0.8"/>
<ellipse cx="1005" cy="550" rx="30" ry="8" fill="#c0c4c9" opacity="0.7"/>
<path d="M975,611 L1049,610.8 L1081,599 L1105,590.7 L1125,585 L1145,582 L1160,580.5 L1175,583 L1190,588 L1235,589 L1235,700 L975,700 Z" fill="#566b40"/>
<path d="M975,611 L1049,610.8 L1055,618 L1040,630 L975,632 Z" fill="#3f4a3c"/>
<path d="M1055,612 L1085,602 L1105,606 L1100,622 L1065,628 Z" fill="#8c6e3e" opacity="0.75"/>
<ellipse cx="1110" cy="597" rx="14" ry="4" fill="#8a6a3a" opacity="0.6"/>
<path d="M975,628 L1040,626 L1100,618 L1160,604 L1235,606 L1235,660 L1150,655 L1080,652 L975,650 Z" fill="#34502c"/>
<path d="M975,650 L1080,651 L1085,700 L1070,705 L975,690 Z" fill="#cfc6b0"/>
<ellipse cx="1006" cy="652.5" rx="19" ry="6.5" fill="#8e918c"/>
<ellipse cx="1035" cy="666" rx="19" ry="10" fill="#8b8e89"/>
<ellipse cx="1065" cy="658" rx="14" ry="8.5" fill="#8d908b"/>
<ellipse cx="985" cy="662" rx="10" ry="5" fill="#999c96"/>
<path d="M975,680 C995,674 1025,678 1043,692 C1050,705 1050,730 1046,745 L975,745 Z" fill="#858b7b"/>
<path d="M1036,700 C1050,692 1075,694 1092,708 L1096,745 L1033,745 Z" fill="#72756e"/>
<ellipse cx="1000" cy="700" rx="14" ry="10" fill="#a3ad7c" opacity="0.6"/>
<ellipse cx="1020" cy="725" rx="10" ry="8" fill="#9fa878" opacity="0.5"/>
<path d="M1105,702 L1143,702 L1143,745 L1100,745 Z" fill="#b2aca0"/>
<path d="M1143,650 L1235,666.5 L1235,745 L1143,745 Z" fill="#6a2f1f"/>
<path d="M1181,686 L1230,690 L1230,745 L1181,745 Z" fill="#552416"/>
</g>
<rect x="975" y="541" width="260" height="204" filter="url(#pn2)" opacity="0.75" clip-path="url(#cp2)"/>
<rect x="975" y="541" width="260" height="204" filter="url(#pn2b)" opacity="0.35" clip-path="url(#cp2)"/>
<g filter="url(#pb2b)">
<path d="M1028,692 L1040,687 L1051,692 L1049,700 L1032,700 Z" fill="#1e1e20"/>
<path d="M1070,690 L1100,692 L1105,707 L1072,706 Z" fill="#2a50a0"/>
<path d="M1048,708 L1060,712 L1058,740 L1050,738 Z" fill="#2a2c30"/>
<path d="M1166,542 L1130,603 M1198,552 L1235,605" stroke="#4a4a4a" stroke-width="0.7" fill="none"/>
<path d="M1178,542 L1201,542 L1195,650 L1187,745 L1166,745 L1170,650 Z" fill="#8d97a1"/>
<path d="M1183,542 L1190,542 L1179,745 L1173,745 Z" fill="#a6aeb6" opacity="0.6"/>
<path d="M1164,622 L1196,620 L1197,652 L1166,653 Z" fill="#9ba2a8"/>
<path d="M996,619 L1206,637 L1206,645.6 L996,626 Z" fill="#c4c8cc"/>
<path d="M996,624 L1206,643 L1206,645.6 L996,626.5 Z" fill="#8e9296"/>
<path d="M1070,641 L1083,636 L1150,638 L1147,655 L1072,653 Z" fill="#e6dcc8"/>
<rect x="1080" y="653" width="62" height="50" fill="#a9adb1"/>
<rect x="1085" y="658.0" width="51" height="4.2" fill="#d2d5d8"/>
<rect x="1085" y="665.4" width="51" height="4.2" fill="#d2d5d8"/>
<rect x="1085" y="672.8" width="51" height="4.2" fill="#d2d5d8"/>
<rect x="1085" y="680.2" width="51" height="4.2" fill="#d2d5d8"/>
<rect x="1085" y="687.6" width="51" height="4.2" fill="#d2d5d8"/>
<rect x="1085" y="695.0" width="51" height="4.2" fill="#d2d5d8"/>
<rect x="1088" y="632" width="1.7" height="9" fill="#30c040"/>
<rect x="1087" y="640" width="3.5" height="4" fill="#1a1a1a"/>
<rect x="1096" y="632" width="1.7" height="9" fill="#30c040"/>
<rect x="1095" y="640" width="3.5" height="4" fill="#1a1a1a"/>
<rect x="1105" y="632" width="1.7" height="9" fill="#30c040"/>
<rect x="1104" y="640" width="3.5" height="4" fill="#1a1a1a"/>
<rect x="1113" y="632" width="1.7" height="9" fill="#30c040"/>
<rect x="1112" y="640" width="3.5" height="4" fill="#1a1a1a"/>
<path d="M1128,645 L1165,644" stroke="#30d040" stroke-width="1.2"/>
<path d="M1139,671 L1185,671 L1185,688 L1139,688 Z" fill="#141414"/><path d="M1153,692 L1194,692 L1193,707 L1154,707 Z" fill="#141414"/>
<path d="M1158,707 L1190,705 L1192,715 L1160,716 Z" fill="#c9c9c6"/>
<path d="M1080,703 L1070,745 M1100,705 L1096,745" stroke="#d8d8d8" stroke-width="2"/>
<circle cx="1132" cy="733" r="2.5" fill="#c02020"/>
</g>
</svg>
<polygon points="690.0,884.0 704.7,884.0 704.7,893.7 718.7,893.7 692.5,907.7 667.2,893.7 690.0,893.7" fill="#000"/>
<polygon points="1085.0,372.0 1107.0,372.0 1107.0,389.5 1120.0,389.5 1096.0,409.6 1071.0,389.5 1085.0,389.5" fill="#000"/>
<polygon points="1081.3,758.0 1106.4,758.0 1106.4,774.1 1121.0,774.1 1094.0,792.7 1067.4,774.1 1081.3,774.1" fill="#000"/>
<rect x="515.2" y="906.8" width="348.1" height="44.6" fill="url(#bluegrad)" filter="url(#shadow)"/>
<text x="531.83" y="937.28" font-size="22.42" textLength="313.83" lengthAdjust="spacingAndGlyphs" font-family='"Liberation Sans",sans-serif' fill="#fff">数値標高モデルからマップ化</text>
<rect x="984.5" y="405.6" width="243.3" height="44.2" fill="url(#bluegrad)" filter="url(#shadow)"/>
<text x="1018.41" y="436.95" font-size="22.77" textLength="173.59" lengthAdjust="spacingAndGlyphs" font-family='"Liberation Sans",sans-serif' fill="#fff">見回り業務軽減</text>
<rect x="927.8" y="792.7" width="323.4" height="75.1" fill="url(#bluegrad)" filter="url(#shadow)"/>
<text x="991.26" y="824.04" font-size="24.04" textLength="194.82" lengthAdjust="spacingAndGlyphs" font-family='"Liberation Sans",sans-serif' fill="#fff">農地･生態系観測</text>
<text x="1010.55" y="855.12" font-size="23.09" textLength="155.53" lengthAdjust="spacingAndGlyphs" font-family='"Liberation Sans",sans-serif' fill="#fff">山岳遭難対策</text>
</svg>
</body></html>
